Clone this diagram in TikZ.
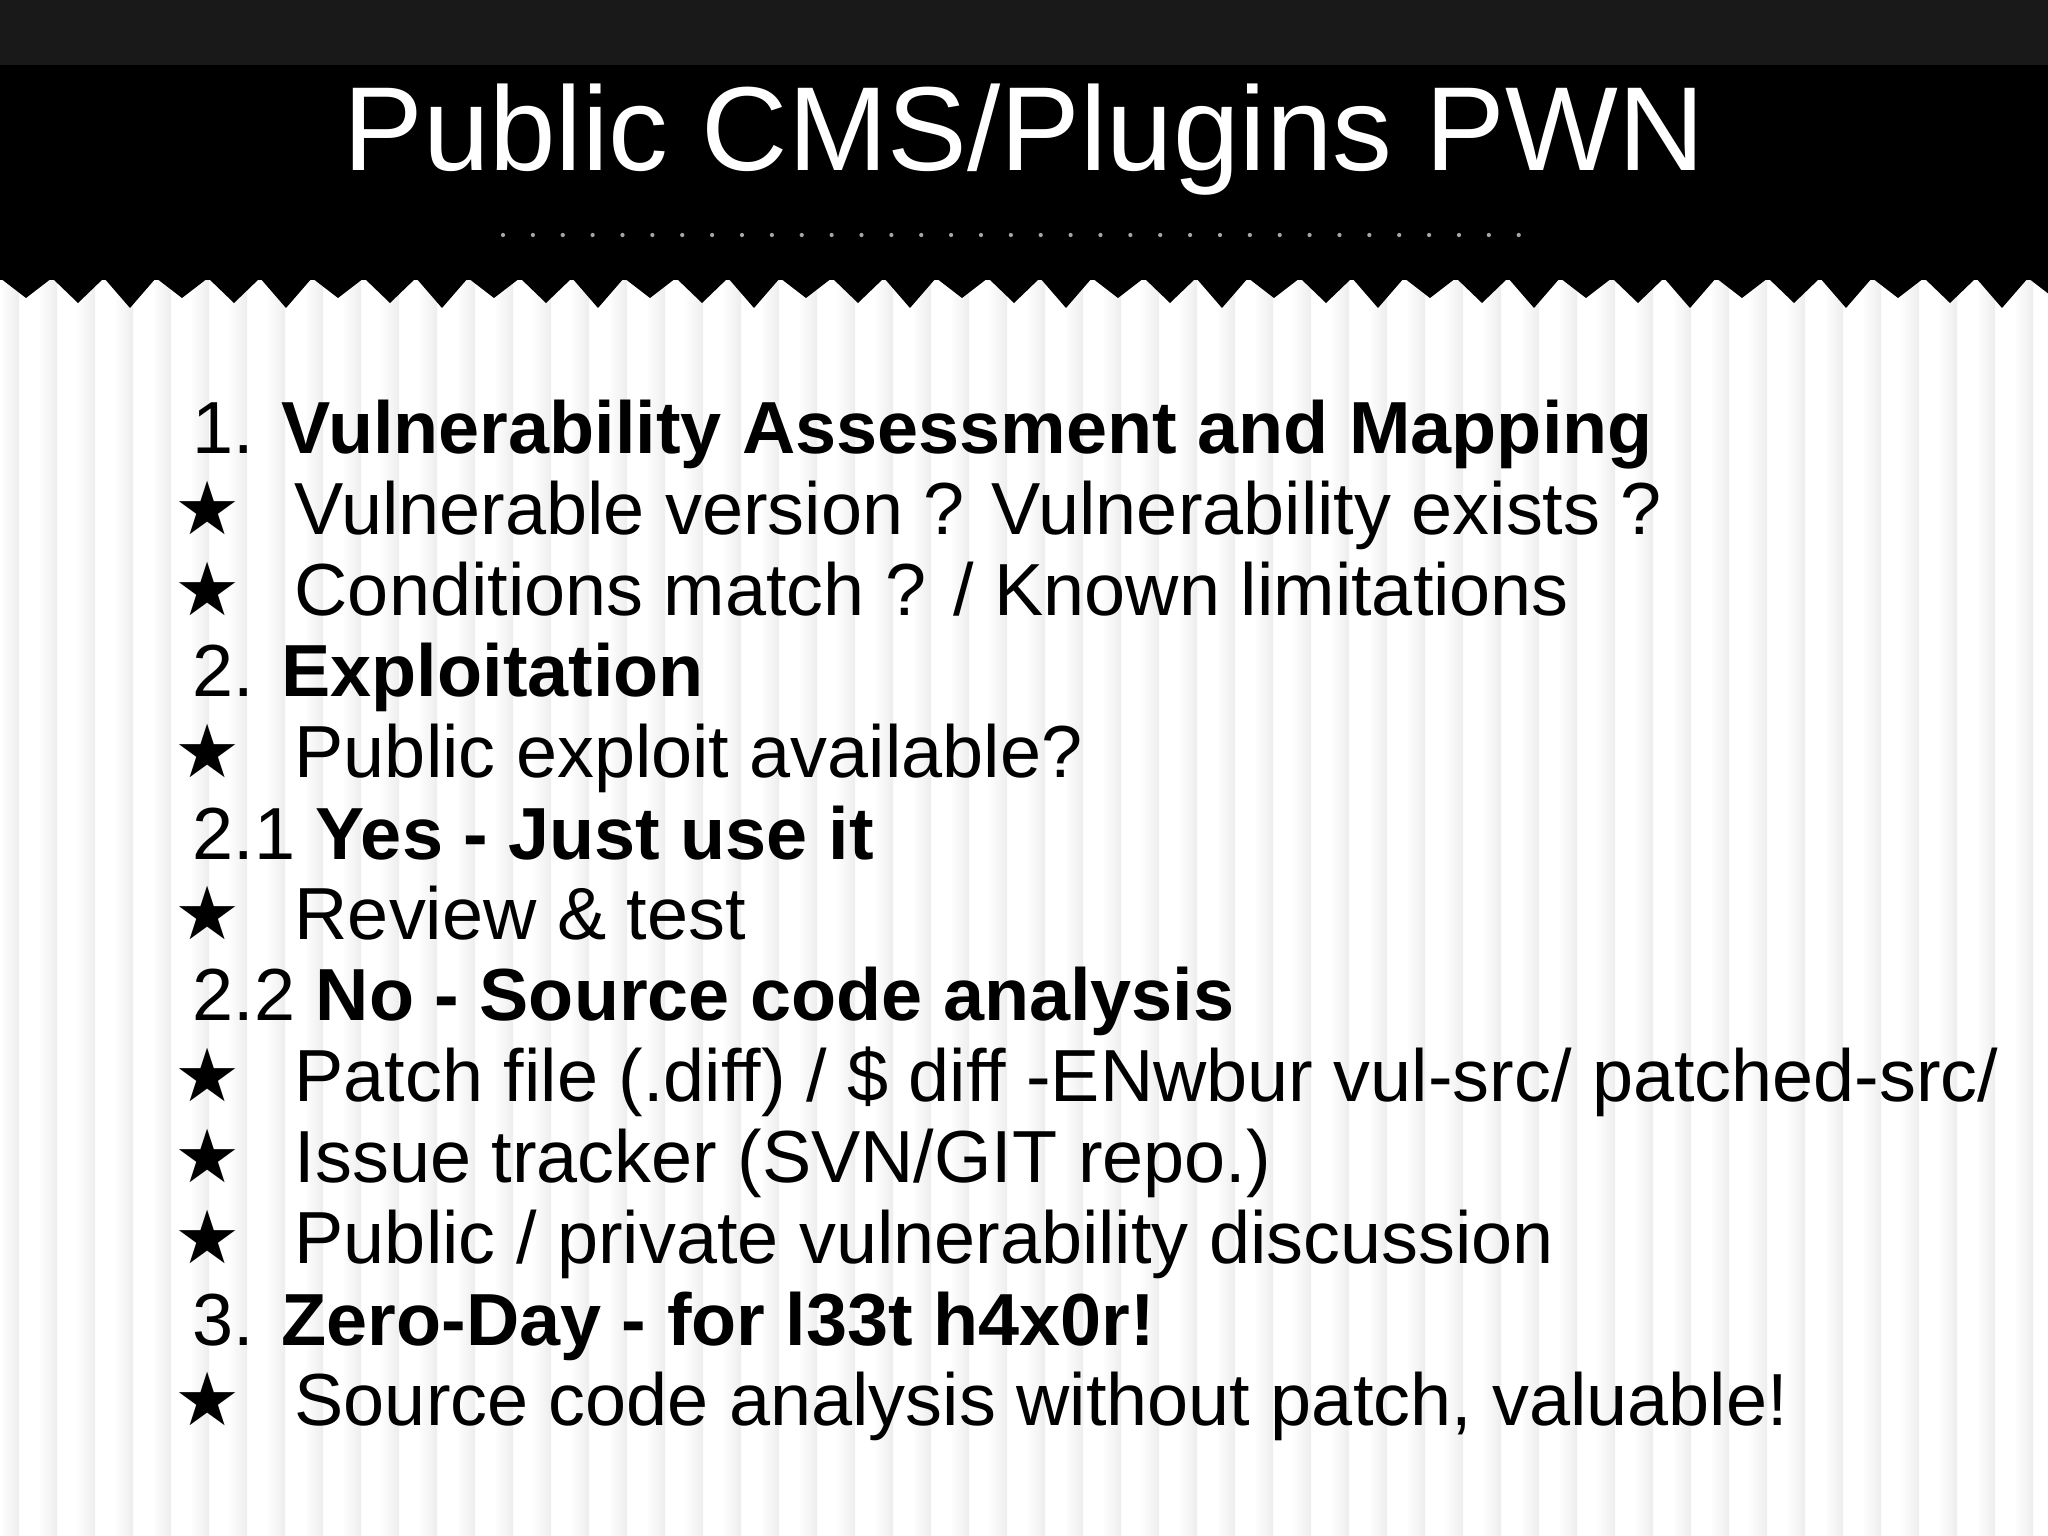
\documentclass[tikz,border=0pt]{standalone}
\usepackage{fontspec}
\setmainfont{Liberation Sans}
\newfontfamily\symfont{DejaVu Sans}
\begin{document}
\begin{tikzpicture}[
  line/.style={anchor=base west,inner sep=0pt,font=\fontsize{21}{25}\selectfont},
  starmark/.style={anchor=base west,inner sep=0pt,font=\symfont\fontsize{21}{25}\selectfont}]
\useasboundingbox (0,0) rectangle (20.48,-15.36);
\fill[white] (0,0) rectangle (20.48,-15.36);
% stripes
\foreach \i in {0,...,55}{
  \shade[left color=white,right color=gray!14] (\i*0.38,-2.7) rectangle (\i*0.38+0.19,-15.36);
}
% header
\fill[black] (0,0) rectangle (20.48,-2.8);
\fill[black!90] (0,0) rectangle (20.48,-0.65);
\fill[black] (0,-2.78) \foreach \i in {0,...,40}{ -- ({\i*0.52+0.26},{-2.98-0.05*mod(\i,3)}) -- ({\i*0.52+0.52},-2.78)} -- (20.48,-2.78) -- (20.48,-2.7) -- (0,-2.7) -- cycle;
\node[text=white,font=\fontsize{34}{40}\selectfont] (title) at (10.24,-1.4) {Public CMS/Plugins PWN};
\draw[gray!70,line width=1.2pt,dash pattern=on 0pt off 8.5pt,line cap=round] (5.03,-2.35) -- (15.35,-2.35);
% body
\newcommand\ny[1]{-4.54-0.81*#1}
\node[line] (l0) at (1.92,\ny{0}) {1. \textbf{Vulnerability Assessment and Mapping}};
\node[starmark] (s1) at (1.74,\ny{1}) {★}; \node[line] (l1) at (2.94,\ny{1}) {Vulnerable version ? Vulnerability exists ?};
\node[starmark] (s2) at (1.74,\ny{2}) {★}; \node[line] (l2) at (2.94,\ny{2}) {Conditions match ? / Known limitations};
\node[line] (l3) at (1.92,\ny{3}) {2. \textbf{Exploitation}};
\node[starmark] (s4) at (1.74,\ny{4}) {★}; \node[line] (l4) at (2.94,\ny{4}) {Public exploit available?};
\node[line] (l5) at (1.92,\ny{5}) {2.1 \textbf{Yes - Just use it}};
\node[starmark] (s6) at (1.74,\ny{6}) {★}; \node[line] (l6) at (2.94,\ny{6}) {Review \& test};
\node[line] (l7) at (1.92,\ny{7}) {2.2 \textbf{No - Source code analysis}};
\node[starmark] (s8) at (1.74,\ny{8}) {★}; \node[line] (l8) at (2.94,\ny{8}) {Patch file (.diff) / \$ diff -ENwbur vul-src/ patched-src/};
\node[starmark] (s9) at (1.74,\ny{9}) {★}; \node[line] (l9) at (2.94,\ny{9}) {Issue tracker (SVN/GIT repo.)};
\node[starmark] (s10) at (1.74,\ny{10}) {★}; \node[line] (l10) at (2.94,\ny{10}) {Public / private vulnerability discussion};
\node[line] (l11) at (1.92,\ny{11}) {3. \textbf{Zero-Day - for l33t h4x0r!}};
\node[starmark] (s12) at (1.74,\ny{12}) {★}; \node[line] (l12) at (2.94,\ny{12}) {Source code analysis without patch, valuable!};
\end{tikzpicture}
\end{document}
